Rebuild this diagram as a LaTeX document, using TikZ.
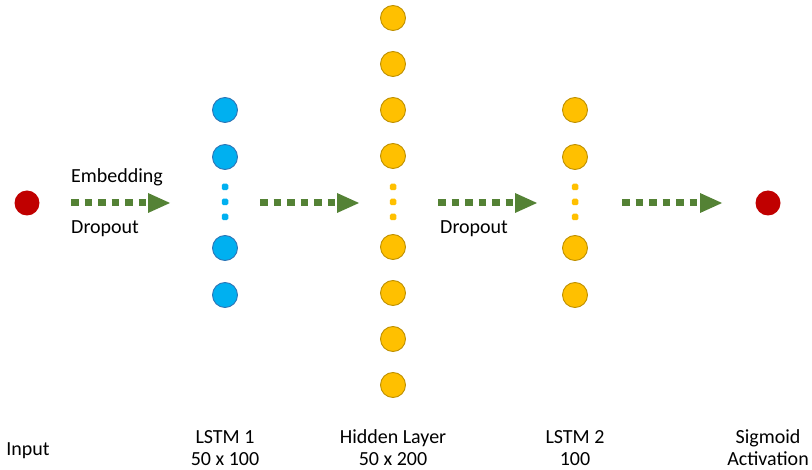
\documentclass[tikz,border=0pt]{standalone}
\usepackage{fontspec}
\setmainfont{Carlito}
\usetikzlibrary{arrows.meta}
\definecolor{cblue}{HTML}{00B0F0}
\definecolor{cblueline}{HTML}{2E75B6}
\definecolor{corange}{HTML}{FFC000}
\definecolor{corangeline}{HTML}{BF9000}
\definecolor{cred}{HTML}{C00000}
\definecolor{cgreen}{HTML}{548235}
\begin{document}
\begin{tikzpicture}[x=1pt,y=-1pt,
  font=\fontsize{20}{23}\selectfont,
  bluecell/.style={circle,draw=cblueline,line width=0.9pt,fill=cblue,minimum size=25pt,inner sep=0pt},
  orangecell/.style={circle,draw=corangeline,line width=0.9pt,fill=corange,minimum size=25pt,inner sep=0pt},
  redcell/.style={circle,fill=cred,minimum size=25pt,inner sep=0pt},
  bluedot/.style={rectangle,rounded corners=1.5pt,fill=cblue,minimum size=6.5pt,inner sep=0pt},
  orangedot/.style={rectangle,rounded corners=1.5pt,fill=corange,minimum size=6.5pt,inner sep=0pt},
  flow/.style={draw=cgreen,line width=7pt,dash pattern=on 7.5pt off 6pt,
    -{Triangle[length=22pt,width=20pt,line width=0pt]}},
  caption/.style={anchor=base,inner sep=0pt}]
\useasboundingbox (0,0) rectangle (812,470);

% input and output units
\node[redcell] (in) at (27,203) {};
\node[redcell] (out) at (768,203) {};

% LSTM 1
\foreach \y [count=\i] in {110,157,248,295}
  \node[bluecell] (l1c\i) at (225,\y) {};
\foreach \y [count=\i] in {187,202,217}
  \node[bluedot] (l1d\i) at (225,\y) {};

% hidden layer
\foreach \y [count=\i] in {18,64,110,156,247,293,339,385}
  \node[orangecell] (hc\i) at (393,\y) {};
\foreach \y [count=\i] in {187,202,217}
  \node[orangedot] (hd\i) at (393,\y) {};

% LSTM 2
\foreach \y [count=\i] in {110,157,248,295}
  \node[orangecell] (l2c\i) at (575,\y) {};
\foreach \y [count=\i] in {187,202,217}
  \node[orangedot] (l2d\i) at (575,\y) {};

% arrow end points
\coordinate (a1s) at (71,203);  \coordinate (a1e) at (170,203);
\coordinate (a2s) at (260,203); \coordinate (a2e) at (359,203);
\coordinate (a3s) at (438,203); \coordinate (a3e) at (537,203);
\coordinate (a4s) at (622,203); \coordinate (a4e) at (722,203);

\draw[flow] (a1s) -- (a1e);
\draw[flow] (a2s) -- (a2e);
\draw[flow] (a3s) -- (a3e);
\draw[flow] (a4s) -- (a4e);

% arrow labels
\node[anchor=west,inner sep=0pt] (emb) at (71,177) {Embedding};
\node[anchor=west,inner sep=0pt] (drop1) at (71,229) {Dropout};
\node[anchor=west,inner sep=0pt] (drop2) at (440,229) {Dropout};

% layer captions: two lines under each column
\node[caption] (capin) at (28,456) {Input};
\foreach \x/\top/\bot/\nm in {225/LSTM 1/50 x 100/cap1,
                              393/Hidden Layer/50 x 200/caph,
                              575/LSTM 2/100/cap2,
                              768/Sigmoid/Activation/capout}{
  \node[caption] (\nm a) at (\x,443) {\top};
  \node[caption] (\nm b) at (\x,465) {\bot};
}
\end{tikzpicture}
\end{document}
